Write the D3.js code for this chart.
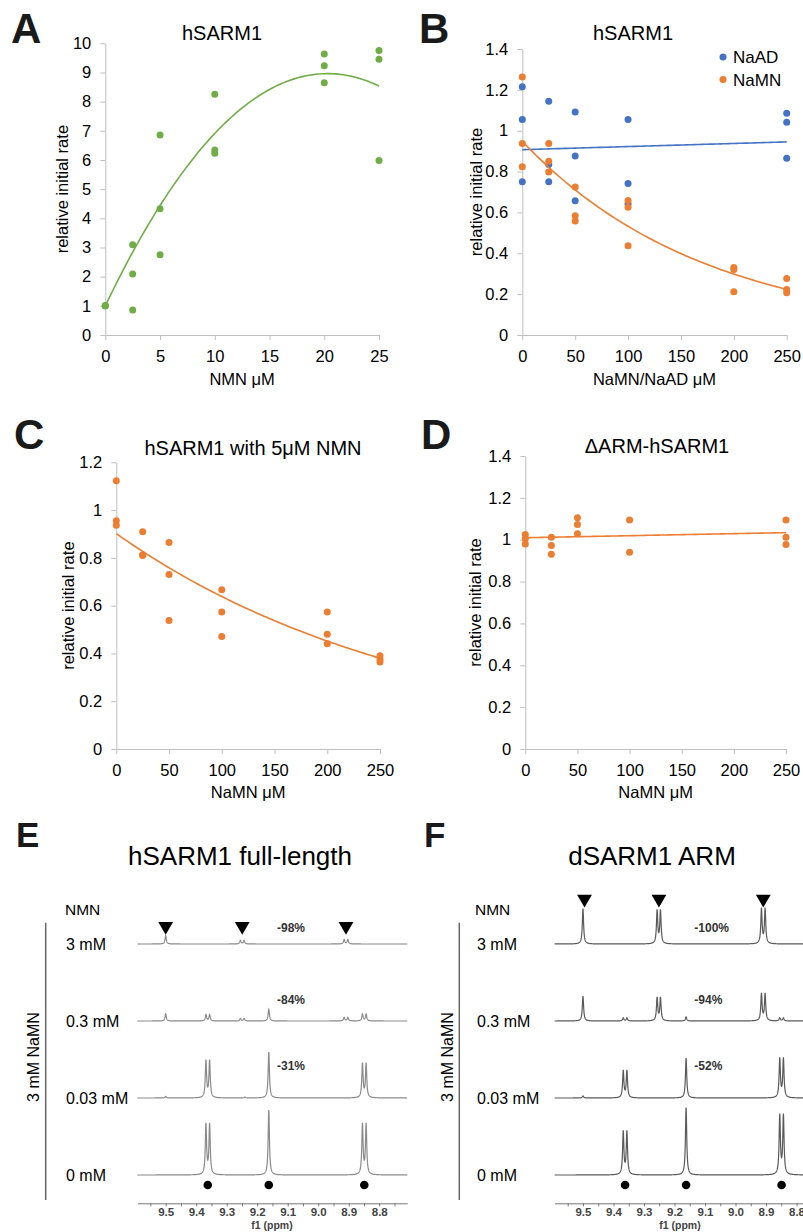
<!DOCTYPE html>
<html>
<head>
<meta charset="utf-8">
<script src="https://cdn.jsdelivr.net/npm/d3@7"></script>
<style>
  body { margin: 0; background: #fff; }
  svg { display: block; }
</style>
</head>
<body>
<script>
// ---- panel A: rate vs NMN ----
const nmnA  = [0, 0, 0, 2.5, 2.5, 2.5, 5, 5, 5, 10, 10, 10, 20, 20, 20, 25, 25, 25];
const rateA = [1.0, 1.0, 1.0, 3.09, 2.09, 0.86, 6.86, 4.33, 2.75, 8.25, 6.34, 6.23, 9.63, 9.23, 8.65, 9.75, 9.45, 5.98];

// ---- panel B: NaAD / NaMN ----
const doseNaAD = [0, 0, 0, 25, 25, 25, 50, 50, 50, 100, 100, 100, 250, 250, 250];
const rateNaAD = [1.215, 1.055, 0.75, 1.144, 0.835, 0.75, 1.091, 0.876, 0.657, 1.055, 0.741, 0.641, 1.085, 1.042, 0.865];
const doseNaMN = [0, 0, 0, 25, 25, 25, 50, 50, 50, 100, 100, 100, 200, 200, 200, 250, 250, 250];
const rateNaMN = [1.263, 0.938, 0.824, 0.938, 0.85, 0.798, 0.724, 0.584, 0.558, 0.659, 0.625, 0.437, 0.331, 0.321, 0.212, 0.276, 0.223, 0.207];

// ---- panel C: NaMN with 5uM NMN ----
const doseC = [0, 0, 0, 25, 25, 25, 50, 50, 50, 100, 100, 100, 200, 200, 200, 250, 250, 250];
const rateC = [1.123, 0.955, 0.937, 0.909, 0.813, 0.81, 0.864, 0.73, 0.538, 0.667, 0.573, 0.471, 0.573, 0.48, 0.441, 0.39, 0.376, 0.364];

// ---- panel D: dARM-hSARM1 ----
const doseD = [0, 0, 0, 25, 25, 25, 50, 50, 50, 100, 100, 250, 250, 250];
const rateD = [1.025, 1.005, 0.98, 1.012, 0.972, 0.931, 1.105, 1.073, 1.028, 1.094, 0.94, 1.094, 1.012, 0.977];

// ---- NMR panels E/F : peaks as [ppm, intensity] ----
const nmrRows = ["3 mM", "0.3 mM", "0.03 mM", "0 mM"];
const peaksE = [
  [[9.50, 8.3], [9.255, 3.5], [9.243, 3.5], [8.915, 4.5], [8.903, 4.5]],
  [[9.50, 7], [9.368, 6.3], [9.356, 6.3], [9.255, 2.5], [9.243, 2.5], [9.162, 11.7], [8.915, 3.5], [8.903, 3.5], [8.855, 6.8], [8.843, 6.8]],
  [[9.50, 1.5], [9.368, 37], [9.356, 37], [9.24, 0.8], [9.162, 46], [8.855, 34], [8.843, 34]],
  [[9.368, 50], [9.356, 50], [9.162, 65], [8.855, 50], [8.843, 50]]
];
const peaksF = [
  [[9.50, 35.5], [9.257, 33], [9.246, 33], [8.915, 35], [8.903, 35]],
  [[9.50, 25], [9.368, 3], [9.356, 3], [9.257, 23], [9.246, 23], [9.162, 4], [8.915, 27], [8.903, 27], [8.855, 3], [8.843, 3]],
  [[9.50, 2], [9.368, 27], [9.356, 27], [9.162, 40], [8.855, 39], [8.843, 39]],
  [[9.368, 43], [9.356, 43], [9.162, 67.5], [8.855, 59], [8.843, 59]]
];
const pctE = ["-98%", "-84%", "-31%", ""];
const pctF = ["-100%", "-94%", "-52%", ""];
const nmnPpm = [9.50, 9.249, 8.909];
const namnPpm = [9.362, 9.162, 8.849];
const ppmLabels = [9.5, 9.4, 9.3, 9.2, 9.1, 9.0, 8.9, 8.8];

const FONT = "'Liberation Sans', Arial, Helvetica, sans-serif";
const GREEN = "#70ad47", BLUE = "#4472c4", ORANGE = "#ed7d31";

const svg = d3.select("body").append("svg")
  .attr("width", 803).attr("height", 1232)
  .style("font-family", FONT);

// least squares helpers (same as spreadsheet trendlines)
function fitLinear(xs, ys) {
  const mx = d3.mean(xs), my = d3.mean(ys);
  let sxy = 0, sxx = 0;
  xs.forEach((x, i) => { sxy += (x - mx) * (ys[i] - my); sxx += (x - mx) ** 2; });
  const b = sxy / sxx, a = my - b * mx;
  return x => a + b * x;
}
function fitExp(xs, ys) {
  const f = fitLinear(xs, ys.map(Math.log));
  return x => Math.exp(f(x));
}
// 2nd order polynomial with the intercept set to 1 (relative rate)
function fitPoly2(xs, ys) {
  const S = k => d3.sum(xs, x => x ** k);
  const T = k => d3.sum(xs, (x, i) => x ** k * (ys[i] - 1));
  const a11 = S(2), a12 = S(3), a22 = S(4), r1 = T(1), r2 = T(2);
  const det = a11 * a22 - a12 * a12;
  const b = (r1 * a22 - a12 * r2) / det;
  const c = (a11 * r2 - a12 * r1) / det;
  return x => 1 + b * x + c * x * x;
}

function drawPanel(p) {
  const g = svg.append("g");
  const x = d3.scaleLinear().domain(p.xDomain).range(p.xRange);
  const y = d3.scaleLinear().domain(p.yDomain).range(p.yRange);

  const xAxis = g.append("g")
    .attr("transform", `translate(0,${y(0)})`)
    .call(d3.axisBottom(x).tickValues(p.xTicks).tickSize(5).tickSizeOuter(0).tickPadding(10));
  const yAxis = g.append("g")
    .attr("transform", `translate(${x(0)},0)`)
    .call(d3.axisLeft(y).tickValues(p.yTicks).tickSize(5).tickSizeOuter(0).tickPadding(9)
      .tickFormat(d => String(+d.toFixed(1))));
  [xAxis, yAxis].forEach(a => {
    a.selectAll("path, line").attr("stroke", "#bfbfbf");
    a.selectAll("text").style("font-size", "16.5px").style("font-family", FONT).attr("fill", "#000");
  });

  p.series.forEach(s => {
    g.selectAll(null).data(s.xs).enter().append("circle")
      .attr("cx", d => x(d))
      .attr("cy", (d, i) => y(s.ys[i]))
      .attr("r", 3.5)
      .attr("fill", s.color);
  });
  p.series.forEach(s => {
    const f = s.fit(s.xs, s.ys);
    const pts = d3.range(0, 101).map(i => p.xDomain[0] + (p.xDomain[1] - p.xDomain[0]) * i / 100);
    g.append("path")
      .attr("d", d3.line().x(d => x(d)).y(d => y(f(d)))(pts))
      .attr("fill", "none").attr("stroke", s.color).attr("stroke-width", 1.6);
  });

  g.append("text").attr("x", p.title[1]).attr("y", p.title[2])
    .attr("text-anchor", "middle").style("font-size", "20px").text(p.title[0]);
  g.append("text").attr("x", d3.mean(p.xRange)).attr("y", p.xTitleY)
    .attr("text-anchor", "middle").style("font-size", "16.5px").text(p.xTitle);
  g.append("text")
    .attr("transform", `translate(${p.yTitleX},${d3.mean(p.yRange)}) rotate(-90)`)
    .attr("text-anchor", "middle").style("font-size", "16.5px").text("relative initial rate");
  g.append("text").attr("x", p.letter[1]).attr("y", p.letter[2])
    .style("font-size", "42px").style("font-weight", "bold").attr("fill", "#1a1a1a").text(p.letter[0]);
  return g;
}

const step = (a, b, s) => d3.range(a, b + s / 2, s).map(v => +v.toFixed(2));

drawPanel({
  letter: ["A", 11, 43], title: ["hSARM1", 222, 40],
  xDomain: [0, 25], xRange: [105.3, 379], xTicks: step(0, 25, 5),
  yDomain: [0, 10], yRange: [335, 43.3], yTicks: step(0, 10, 1),
  xTitle: "NMN \u03bcM", xTitleY: 385, yTitleX: 68,
  series: [{ xs: nmnA, ys: rateA, color: GREEN, fit: fitPoly2 }]
});

const gB = drawPanel({
  letter: ["B", 419, 43], title: ["hSARM1", 633, 40],
  xDomain: [0, 250], xRange: [522.3, 786.7], xTicks: step(0, 250, 50),
  yDomain: [0, 1.4], yRange: [335, 49], yTicks: step(0, 1.4, 0.2),
  xTitle: "NaMN/NaAD \u03bcM", xTitleY: 385, yTitleX: 481.5,
  series: [
    { xs: doseNaAD, ys: rateNaAD, color: BLUE, fit: fitLinear },
    { xs: doseNaMN, ys: rateNaMN, color: ORANGE, fit: fitExp }
  ]
});
[["NaAD", BLUE], ["NaMN", ORANGE]].forEach((l, i) => {
  gB.append("circle").attr("cx", 723).attr("cy", 57 + i * 22.5).attr("r", 3.5).attr("fill", l[1]);
  gB.append("text").attr("x", 733).attr("y", 63 + i * 22.5).style("font-size", "17px").text(l[0]);
});

drawPanel({
  letter: ["C", 14, 449], title: ["hSARM1 with 5\u03bcM NMN", 253, 455],
  xDomain: [0, 250], xRange: [116.3, 380], xTicks: step(0, 250, 50),
  yDomain: [0, 1.2], yRange: [749, 462.3], yTicks: step(0, 1.2, 0.2),
  xTitle: "NaMN \u03bcM", xTitleY: 798, yTitleX: 74,
  series: [{ xs: doseC, ys: rateC, color: ORANGE, fit: fitExp }]
});

drawPanel({
  letter: ["D", 421, 449], title: ["\u0394ARM-hSARM1", 657, 453],
  xDomain: [0, 250], xRange: [525.3, 786], xTicks: step(0, 250, 50),
  yDomain: [0, 1.4], yRange: [749, 456], yTicks: step(0, 1.4, 0.2),
  xTitle: "NaMN \u03bcM", xTitleY: 798, yTitleX: 480.5,
  series: [{ xs: doseD, ys: rateD, color: ORANGE, fit: fitLinear }]
});

// ---- NMR spectra ----
function drawSpectra(s) {
  const g = svg.append("g");
  const x = d3.scaleLinear().domain([9.593, 8.708]).range(s.xRange);
  const row = d3.scalePoint().domain(nmrRows).range([944, 1175]);
  const h = d3.scaleLinear().domain([0, 100]).range([0, 100]);
  const hw = 0.0025;
  const grid = d3.range(0, 1771).map(i => 9.593 - i * 0.0005);

  nmrRows.forEach((r, ri) => {
    const peaks = s.peaks[ri];
    const spec = grid.map(p => [p, d3.sum(peaks, pk => pk[1] / (1 + ((p - pk[0]) / hw) ** 2))]);
    g.append("path")
      .attr("d", d3.line().x(d => x(d[0])).y(d => row(r) - h(d[1]))(spec))
      .attr("fill", "none").attr("stroke", s.stroke).attr("stroke-width", 1.2);
    g.append("text").attr("x", s.labelX).attr("y", row(r) + 6)
      .style("font-size", "16px").text(r);
    if (s.pct[ri]) {
      g.append("text").attr("x", x(9.135)).attr("y", row(r) + [-12, -17, -28][ri])
        .style("font-size", "12px").style("font-weight", "bold").attr("fill", "#333").text(s.pct[ri]);
    }
  });

  // NMN markers above the top trace
  const top = row(nmrRows[0]) - h(d3.max(s.peaks[0], d => d[1])) - 5;
  g.selectAll(null).data(s.tri).enter().append("path")
    .attr("d", d3.symbol(d3.symbolTriangle, 95))
    .attr("transform", d => `translate(${x(d)},${top - 4.5}) rotate(180)`)
    .attr("fill", "#000");
  // NaMN markers under the bottom trace
  g.selectAll(null).data(namnPpm).enter().append("circle")
    .attr("cx", d => x(d)).attr("cy", row(nmrRows[3]) + 10).attr("r", 4.3).attr("fill", "#000");

  const ax = g.append("g").attr("transform", "translate(0,1203.3)")
    .call(d3.axisBottom(x).tickValues(step(8.75, 9.55, 0.05)).tickSize(3).tickSizeOuter(0).tickPadding(2)
      .tickFormat(d => ppmLabels.includes(d) ? d.toFixed(1) : ""));
  ax.selectAll("path, line").attr("stroke", "#777");
  ax.selectAll("text").style("font-size", "11.5px").style("font-weight", "bold")
    .style("font-family", FONT).attr("fill", "#444");
  g.append("text").attr("x", s.f1X).attr("y", 1229).attr("text-anchor", "middle")
    .style("font-size", "10.5px").style("font-weight", "bold").attr("fill", "#444").text("f1 (ppm)");

  g.append("text").attr("x", s.title[1]).attr("y", s.title[2]).attr("text-anchor", "middle")
    .style("font-size", "26px").text(s.title[0]);
  g.append("text").attr("x", s.letter[1]).attr("y", s.letter[2])
    .style("font-size", "35px").style("font-weight", "bold").attr("fill", "#1a1a1a").text(s.letter[0]);
  g.append("text").attr("x", s.nmnX).attr("y", 915).style("font-size", "15.5px").text("NMN");
  g.append("line").attr("x1", s.barX).attr("x2", s.barX).attr("y1", 922.7).attr("y2", 1200)
    .attr("stroke", "#666").attr("stroke-width", 1.5);
  g.append("text")
    .attr("transform", `translate(${s.barX - 6.5},1057) rotate(-90)`)
    .attr("text-anchor", "middle").style("font-size", "16px").text("3 mM NaMN");
}

drawSpectra({
  letter: ["E", 16, 847], title: ["hSARM1 full-length", 240, 865],
  xRange: [137.3, 407.3], peaks: peaksE, pct: pctE, tri: nmnPpm,
  stroke: "#8a8a8a", labelX: 66, nmnX: 65, barX: 45.7, f1X: 272
});
drawSpectra({
  letter: ["F", 424, 847], title: ["dSARM1 ARM", 652, 865],
  xRange: [554.6, 824.6], peaks: peaksF, pct: pctF, tri: [9.495, 9.251, 8.909],
  stroke: "#5a5a5a", labelX: 477, nmnX: 475, barX: 459.3, f1X: 680
});
</script>
</body>
</html>
